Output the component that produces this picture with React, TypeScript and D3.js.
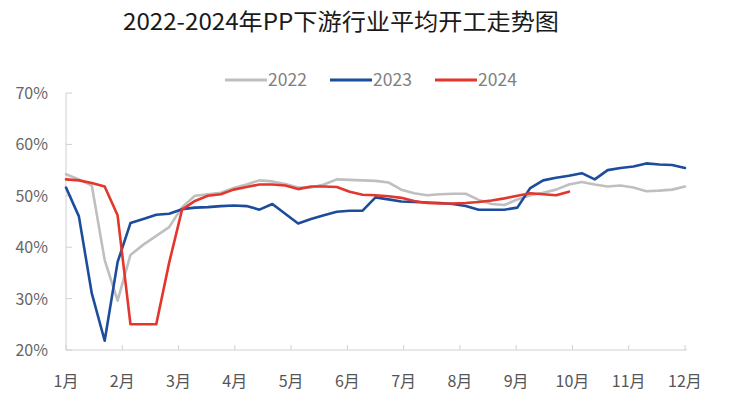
import React from 'react';
import * as d3 from 'd3';

const months = ['1月', '2月', '3月', '4月', '5月', '6月', '7月', '8月', '9月', '10月', '11月', '12月'];
const yTicks = [20, 30, 40, 50, 60, 70];

// weekly average operating rate (%), week 0 = early January
const y2022 = [
  54.2, 53.2, 52.0, 37.5, 29.6, 38.5, 40.5, 42.2, 43.9, 47.8,
  50.0, 50.3, 50.6, 51.5, 52.2, 53.0, 52.8, 52.3, 51.6, 51.6,
  52.2, 53.2, 53.1, 53.0, 52.9, 52.6, 51.2, 50.5, 50.1, 50.3,
  50.4, 50.4, 49.2, 48.4, 48.2, 49.3, 50.1, 50.6, 51.2, 52.2,
  52.7, 52.2, 51.8, 52.0, 51.6, 50.9, 51.0, 51.2, 51.8,
];
const y2023 = [
  51.6, 46.0, 31.0, 21.8, 37.1, 44.7, 45.5, 46.3, 46.5, 47.4,
  47.7, 47.8, 48.0, 48.1, 48.0, 47.3, 48.4, 46.5, 44.6, 45.5,
  46.2, 46.9, 47.1, 47.1, 49.7, 49.3, 48.9, 48.8, 48.7, 48.6,
  48.4, 48.0, 47.3, 47.3, 47.3, 47.7, 51.5, 53.0, 53.5, 53.9,
  54.4, 53.2, 55.0, 55.4, 55.7, 56.3, 56.1, 56.0, 55.4,
];
const y2024 = [
  53.2, 53.0, 52.5, 51.8, 46.2, 25.0, 25.0, 25.0, 37.0, 47.3,
  49.0, 50.0, 50.3, 51.2, 51.7, 52.2, 52.2, 52.0, 51.3, 51.8,
  51.8, 51.7, 50.8, 50.2, 50.1, 49.9, 49.6, 49.0, 48.6, 48.5,
  48.5, 48.6, 48.8, 49.1, 49.5, 50.0, 50.5, 50.3, 50.1, 50.8,
];

const series = [
  { name: '2022', values: y2022, color: '#BFBFBF' },
  { name: '2023', values: y2023, color: '#1C4C9C' },
  { name: '2024', values: y2024, color: '#E3362C' },
];

const W = 739;
const H = 395;
const left = 66;
const right = 685;
const top = 93;
const bottom = 350;
const font = '"Noto Sans CJK SC", "Noto Sans", sans-serif';

export default function App() {
  const x = d3.scaleLinear().domain([0, 48]).range([left, right]);
  const xm = d3.scaleLinear().domain([0, 11]).range([left, right]);
  const y = d3.scaleLinear().domain([20, 70]).range([bottom, top]);

  const line = d3.line<number>()
    .x((d, i) => x(i))
    .y(d => y(d));

  return (
    <svg width={W} height={H} style={{ position: 'absolute', left: 0, top: 0, background: '#fff' }}>
      <text x={341} y={30} textAnchor="middle" fontSize={23} fill="#1a1a1a" fontFamily={font}
        textLength={436} lengthAdjust="spacingAndGlyphs">
        2022-2024年PP下游行业平均开工走势图
      </text>

      {series.map((s, i) => {
        const lx = 225 + i * 105;
        return (
          <g key={s.name}>
            <line x1={lx} x2={lx + 42} y1={80} y2={80} stroke={s.color} strokeWidth={3} />
            <text x={lx + 43} y={86} fontSize={17.5} fill="#808080" fontFamily={font}>{s.name}</text>
          </g>
        );
      })}

      <line x1={left} x2={left} y1={top} y2={bottom} stroke="#D0D0D0" />
      {yTicks.map(t => (
        <g key={t}>
          <line x1={left} x2={left + 6} y1={y(t)} y2={y(t)} stroke="#D0D0D0" />
          <text x={48} y={y(t) + 6} textAnchor="end" fontSize={16} fill="#666" fontFamily={font}>{t}%</text>
        </g>
      ))}

      <line x1={left} x2={right + 2} y1={bottom} y2={bottom} stroke="#D0D0D0" />
      {months.map((m, i) => (
        <g key={m}>
          <line x1={xm(i)} x2={xm(i)} y1={bottom} y2={bottom - 5} stroke="#D0D0D0" />
          <text x={xm(i)} y={387} textAnchor="middle" fontSize={16} fill="#555" fontFamily={font}>{m}</text>
        </g>
      ))}

      {series.map(s => (
        <path key={s.name} d={line(s.values) || ''} fill="none" stroke={s.color}
          strokeWidth={2.6} strokeLinejoin="round" strokeLinecap="round" />
      ))}
    </svg>
  );
}
